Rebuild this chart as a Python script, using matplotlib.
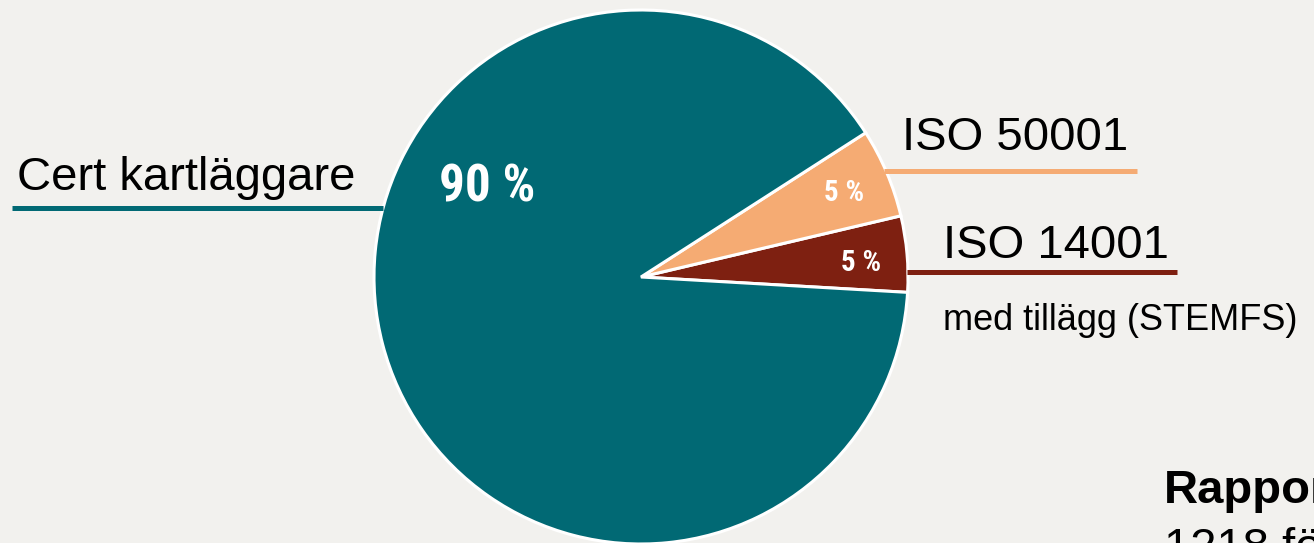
import matplotlib
matplotlib.use("Agg")
import matplotlib.pyplot as plt
from matplotlib import font_manager
from matplotlib.font_manager import FontProperties

# ---- data ----
categories = ["ISO 14001", "ISO 50001", "Cert kartläggare"]
values = [4.6, 5.4, 90.0]
pct_labels = ["5 %", "5 %", "90 %"]
sub_label = "med tillägg (STEMFS)"
note_title = "Rapporterat"
note_text = "1218 företag"

colors = ["#7E2011", "#F5AB73", "#016974"]
BG = "#F2F1EE"
W, H = 1314, 543

# find a condensed / narrow bold face if one is installed
cand = []
for f in font_manager.fontManager.ttflist:
    narrow_like = ("Narrow" in f.name or "Condensed" in f.name
                   or str(f.stretch) in ("condensed", "semi-condensed", "extra-condensed")
                   or "Condensed" in f.fname or "Narrow" in f.fname)
    bold = (f.weight in ("bold", 700, 600, "semibold", "demibold") or
            (isinstance(f.weight, int) and f.weight >= 600) or "Bold" in f.fname)
    if narrow_like and bold and "Italic" not in f.fname and "Oblique" not in f.fname:
        cand.append(f)
pref = ["Liberation Sans Narrow", "Roboto Condensed", "Open Sans", "Noto Sans", "DejaVu Sans"]
cand.sort(key=lambda f: pref.index(f.name) if f.name in pref else 99)
if cand:
    pct_font = lambda s: FontProperties(fname=cand[0].fname, size=s)
    scale = 1.0
else:
    pct_font = lambda s: FontProperties(family=["Liberation Sans", "DejaVu Sans"], weight="bold", size=s)
    scale = 0.88

SANS = ["Liberation Sans", "DejaVu Sans"]

fig = plt.figure(figsize=(W / 100, H / 100), dpi=100, facecolor=BG)
ax = fig.add_axes([0, 0, 1, 1])
ax.set_facecolor(BG)

def Y(y):
    return H - y

cx, cy, r = 641, Y(277), 267
wedges, _ = ax.pie(values, colors=colors, startangle=-3.3, counterclock=True,
                   center=(cx, cy), radius=r,
                   wedgeprops=dict(edgecolor="white", linewidth=2.2))
ax.set_xlim(0, W)
ax.set_ylim(0, H)
ax.set_aspect("equal")
ax.axis("off")

# percentage labels
pct_pos = [(861, 263), (844, 193), (487, 187)]
pct_size = [21, 21, 37]
for (x, y), t, s in zip(pct_pos, pct_labels, pct_size):
    ax.text(x, Y(y), t, ha="center", va="center", color="white",
            fontproperties=pct_font(s * scale))

# leader lines
ax.plot([12, 383], [Y(208), Y(208)], color=colors[2], lw=3.6, solid_capstyle="butt")
ax.plot([884, 1137], [Y(171), Y(171)], color=colors[1], lw=3.6, solid_capstyle="butt")
ax.plot([907, 1177], [Y(272), Y(272)], color=colors[0], lw=3.6, solid_capstyle="butt")

# category labels
ax.text(17, Y(190), categories[2], ha="left", va="baseline", fontsize=34, family=SANS, color="black")
ax.text(902, Y(150), categories[1], ha="left", va="baseline", fontsize=34, family=SANS, color="black")
ax.text(943, Y(258), categories[0], ha="left", va="baseline", fontsize=34, family=SANS, color="black")
ax.text(943, Y(330), sub_label, ha="left", va="baseline", fontsize=26, family=SANS, color="black")

# note at bottom right (partially outside, as in the reference)
ax.text(1164, Y(503), note_title, ha="left", va="baseline", fontsize=34, fontweight="bold",
        family=SANS, color="black", clip_on=False)
ax.text(1164, Y(561), note_text, ha="left", va="baseline", fontsize=34,
        family=SANS, color="black", clip_on=False)

fig.savefig("out.png", dpi=100, facecolor=BG)
